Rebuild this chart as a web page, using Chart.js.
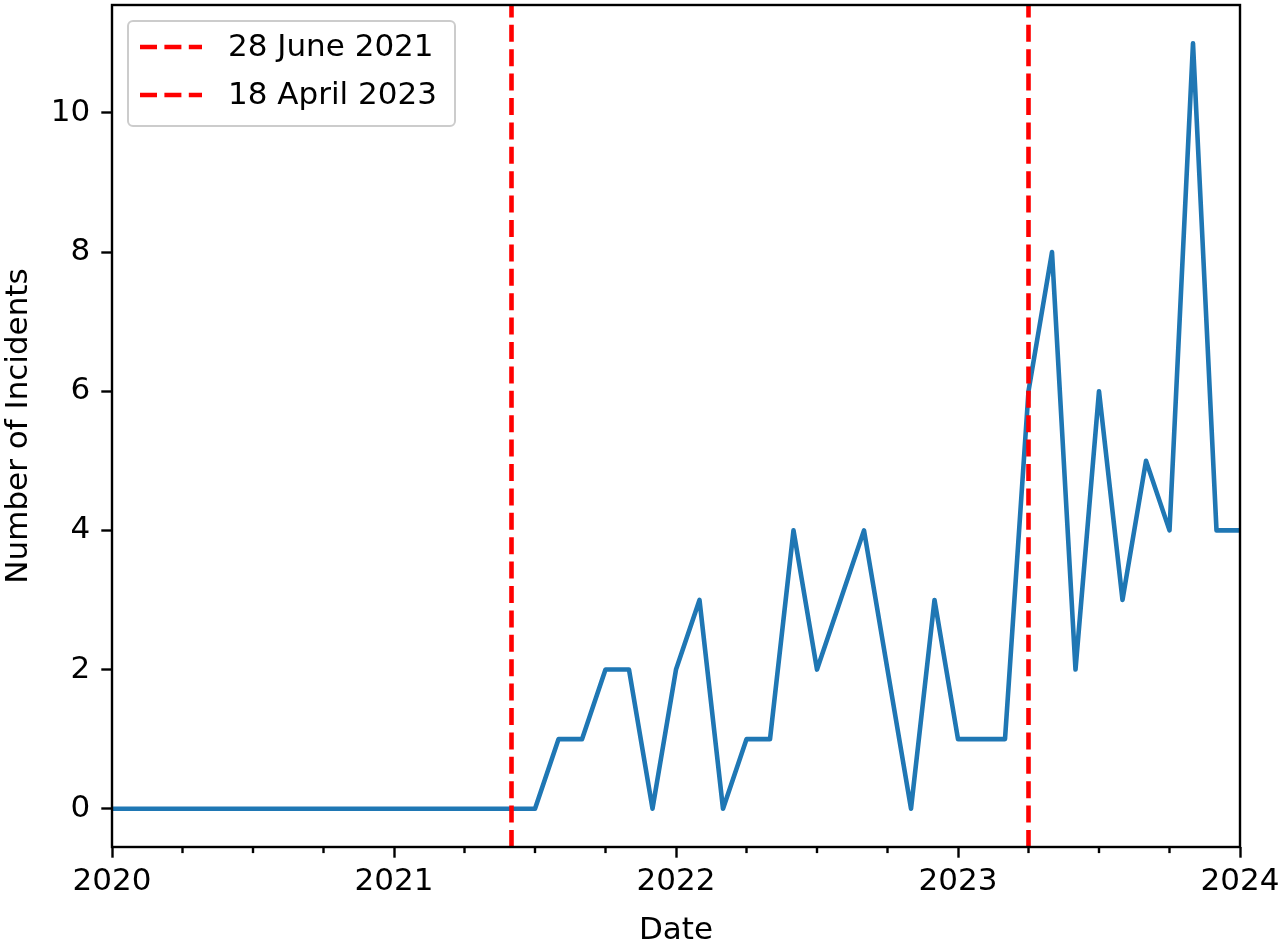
<!DOCTYPE html>
<html>
<head>
<meta charset="utf-8">
<title>Number of Incidents</title>
<script src="https://cdn.jsdelivr.net/npm/chart.js@4.4.1/dist/chart.umd.min.js"></script>
<style>
  html, body { margin: 0; padding: 0; background: #fff; }
  canvas { display: block; }
</style>
</head>
<body>
<canvas id="incidentsChart" width="1280" height="941"></canvas>
<script>
const months = [
  "2020-01", "2020-02", "2020-03", "2020-04", "2020-05", "2020-06",
  "2020-07", "2020-08", "2020-09", "2020-10", "2020-11", "2020-12",
  "2021-01", "2021-02", "2021-03", "2021-04", "2021-05", "2021-06",
  "2021-07", "2021-08", "2021-09", "2021-10", "2021-11", "2021-12",
  "2022-01", "2022-02", "2022-03", "2022-04", "2022-05", "2022-06",
  "2022-07", "2022-08", "2022-09", "2022-10", "2022-11", "2022-12",
  "2023-01", "2023-02", "2023-03", "2023-04", "2023-05", "2023-06",
  "2023-07", "2023-08", "2023-09", "2023-10", "2023-11", "2023-12",
  "2024-01"
];

const incidents = [
  0, 0, 0, 0, 0, 0, 0, 0, 0, 0, 0, 0,
  0, 0, 0, 0, 0, 0, 0, 1, 1, 2, 2, 0,
  2, 3, 0, 1, 1, 4, 2, 3, 4, 2, 0, 3,
  1, 1, 1, 6, 8, 2, 6, 3, 5, 4, 11, 4,
  4
];

const yearTicks = ["2020-01", "2021-01", "2022-01", "2023-01", "2024-01"];
const yearLabels = ["2020", "2021", "2022", "2023", "2024"];
const quarterTicks = [
  "2020-04", "2020-07", "2020-10",
  "2021-04", "2021-07", "2021-10",
  "2022-04", "2022-07", "2022-10",
  "2023-04", "2023-07", "2023-10"
];
const yTicks = [0, 2, 4, 6, 8, 10];
const yMin = -0.55;
const yMax = 11.55;

const markerMonths = ["2021-06", "2023-04"];
const markerLabels = ["28 June 2021", "18 April 2023"];

const FONT = "'DejaVu Sans', 'Liberation Sans', sans-serif";
const FONT_SIZE = 31;
const LINE_W = 4.6;
const RED_DASH = [17, 7.4];

// vertical markers, frame, minor ticks and legend box
const overlayPlugin = {
  id: "overlay",
  afterDatasetsDraw(chart) {
    const { ctx, chartArea: area, scales } = chart;
    const xs = scales.x;

    ctx.save();
    // red dashed markers, drawn from bottom to top like axvline
    ctx.strokeStyle = "#ff0000";
    ctx.lineWidth = LINE_W;
    ctx.setLineDash(RED_DASH);
    markerMonths.forEach(m => {
      const px = xs.getPixelForValue(months.indexOf(m));
      ctx.beginPath();
      ctx.moveTo(px, area.bottom);
      ctx.lineTo(px, area.top);
      ctx.stroke();
    });
    ctx.setLineDash([]);

    // axes frame
    ctx.strokeStyle = "#000";
    ctx.lineWidth = 2.4;
    ctx.strokeRect(area.left, area.top, area.right - area.left, area.bottom - area.top);

    // minor ticks
    quarterTicks.forEach(m => {
      const px = xs.getPixelForValue(months.indexOf(m));
      ctx.beginPath();
      ctx.moveTo(px, area.bottom);
      ctx.lineTo(px, area.bottom + 6.1);
      ctx.stroke();
    });

    // legend
    const bx = area.left + 16, by = area.top + 16, bw = 327, bh = 105;
    ctx.beginPath();
    ctx.roundRect(bx, by, bw, bh, 5);
    ctx.fillStyle = "rgba(255,255,255,0.8)";
    ctx.fill();
    ctx.strokeStyle = "#cccccc";
    ctx.lineWidth = 2;
    ctx.stroke();

    ctx.font = FONT_SIZE + "px " + FONT;
    ctx.textBaseline = "middle";
    ctx.textAlign = "left";
    markerLabels.forEach((label, i) => {
      const ly = by + 26 + i * 48;
      ctx.strokeStyle = "#ff0000";
      ctx.lineWidth = LINE_W;
      ctx.setLineDash(RED_DASH);
      ctx.beginPath();
      ctx.moveTo(bx + 12, ly);
      ctx.lineTo(bx + 74, ly);
      ctx.stroke();
      ctx.setLineDash([]);
      ctx.fillStyle = "#000";
      ctx.fillText(label, bx + 100, ly + 1);
    });
    ctx.restore();
  }
};

const ctx = document.getElementById("incidentsChart").getContext("2d");

new Chart(ctx, {
  type: "line",
  data: {
    labels: months,
    datasets: [{
      data: incidents,
      borderColor: "#1f77b4",
      borderWidth: LINE_W,
      borderJoinStyle: "round",
      pointRadius: 0,
      tension: 0,
      fill: false
    }]
  },
  options: {
    responsive: false,
    devicePixelRatio: 1,
    animation: false,
    layout: { padding: { top: 5, right: 40, bottom: 0, left: 0 } },
    plugins: {
      legend: { display: false },
      tooltip: { enabled: false }
    },
    scales: {
      x: {
        type: "category",
        offset: false,
        border: { display: false },
        grid: {
          display: true,
          drawOnChartArea: false,
          drawTicks: true,
          tickLength: 10.7,
          tickWidth: 2.4,
          tickColor: "#000"
        },
        afterBuildTicks(scale) {
          scale.ticks = yearTicks.map(m => ({ value: months.indexOf(m) }));
        },
        afterFit(scale) {
          scale.height = 94;
          scale.paddingLeft = 0;
          scale.paddingRight = 0;
        },
        ticks: {
          autoSkip: false,
          maxRotation: 0,
          padding: 6,
          color: "#000",
          font: { family: FONT, size: FONT_SIZE },
          callback(value) {
            return yearLabels[yearTicks.indexOf(months[value])];
          }
        },
        title: {
          display: true,
          text: "Date",
          color: "#000",
          font: { family: FONT, size: FONT_SIZE },
          padding: { top: 0, bottom: -9 }
        }
      },
      y: {
        min: yMin,
        max: yMax,
        border: { display: false },
        grid: {
          display: true,
          drawOnChartArea: false,
          drawTicks: true,
          tickLength: 10.7,
          tickWidth: 2.4,
          tickColor: "#000"
        },
        afterBuildTicks(scale) {
          scale.ticks = yTicks.map(v => ({ value: v }));
        },
        afterFit(scale) {
          scale.width = 112;
          scale.paddingTop = 0;
          scale.paddingBottom = 0;
        },
        ticks: {
          padding: 11,
          color: "#000",
          font: { family: FONT, size: FONT_SIZE },
          callback(value) {
            return String(value);
          }
        },
        title: {
          display: true,
          text: "Number of Incidents",
          color: "#000",
          font: { family: FONT, size: FONT_SIZE },
          padding: { top: 0, bottom: 0 }
        }
      }
    }
  },
  plugins: [overlayPlugin]
});
</script>
</body>
</html>
